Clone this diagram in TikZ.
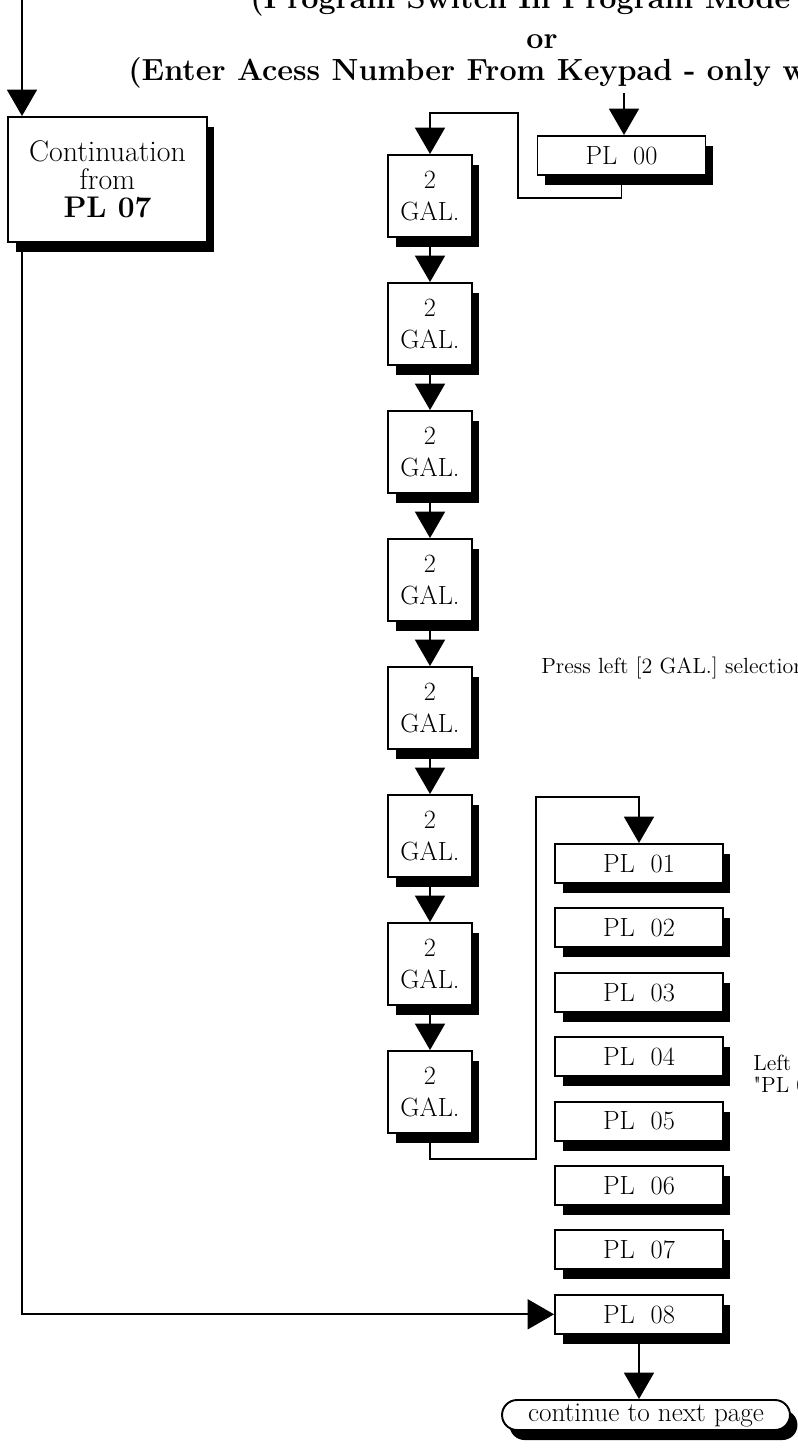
\documentclass[tikz,border=0pt]{standalone}
\usepackage{fontspec}
\usetikzlibrary{arrows.meta,shadows}
\tikzset{
  box/.style={draw, line width=1.1pt, fill=white, align=center, inner sep=0pt,
    font=\fontsize{15}{18}\selectfont,
    drop shadow={shadow xshift=0.15cm, shadow yshift=-0.2cm, fill=black, opacity=1}},
  galbox/.style={box, minimum width=1.68cm, minimum height=1.64cm},
  plbox/.style={box, minimum width=3.36cm, minimum height=0.78cm},
  arr/.style={line width=1.1pt, -{Triangle[width=17pt,length=15pt]}},
  title/.style={font=\fontsize{17.4}{19}\bfseries\selectfont, inner sep=0pt},
  note/.style={font=\fontsize{12.5}{14}\selectfont, inner sep=0pt, anchor=west}
}
\begin{document}
\begin{tikzpicture}[x=0.02cm, y=-0.02cm]
  \useasboundingbox (0,0) rectangle (798,1448);
  \clip (0,0) rectangle (798,1448);
  \node[title, anchor=base west] (head1) at (250,8) {(Program Switch In Program Mode};
  \node[title, anchor=base] (head2) at (542,48) {or};
  \node[title, anchor=base west] (head3) at (128,80) {(Enter Acess Number From Keypad - only w};

  \node[box, minimum width=3.98cm, minimum height=2.5cm, font=\fontsize{17}{16}\selectfont] (cont) at (107.5,179.5) {Continuation\\from\\\textbf{PL 07}};
  \node[plbox] (pl00) at (621.5,155.5) {PL~~00};
  \foreach \i in {1,...,8}
    \node[galbox] (gal\i) at (430,{196+128*(\i-1)}) {2\\GAL.};
  \foreach \n [count=\k from 0] in {01,02,03,04,05,06,07,08}
    \node[plbox] (pl\n) at (639,{863.5+64.4*\k}) {PL~~\n};
  \node[box, rounded corners=0.3cm, minimum width=5.76cm, minimum height=0.6cm, font=\fontsize{15.5}{17}\selectfont] (next) at (646,1415) {continue to next page};

  \coordinate (inL) at (22,0);
  \coordinate (inR) at (624,93);
  \draw[arr] (inL) -- (inL |- cont.north);
  \draw[arr] (inR) -- (inR |- pl00.north);
  \draw[arr] (pl00.south) -- ++(0,22) -| (518,113) -| (gal1.north);
  \foreach \i [count=\j from 2] in {1,...,7}
    \draw[arr] (gal\i.south) -- (gal\j.north);
  \draw[arr] (gal8.south) -- ++(0,25) -| (536,797) -| (pl01.north);
  \draw[arr] (inL |- cont.south) |- (pl08.west);
  \draw[arr] (pl08.south) -- (pl08.south |- next.north);

  \node[note] (press) at (541,668) {Press left [2 GAL.] selection};
  \node[note] (left1) at (753,1063) {Left};
  \node[note] (left2) at (753,1085) {\textquotedbl PL 0};
\end{tikzpicture}
\end{document}
